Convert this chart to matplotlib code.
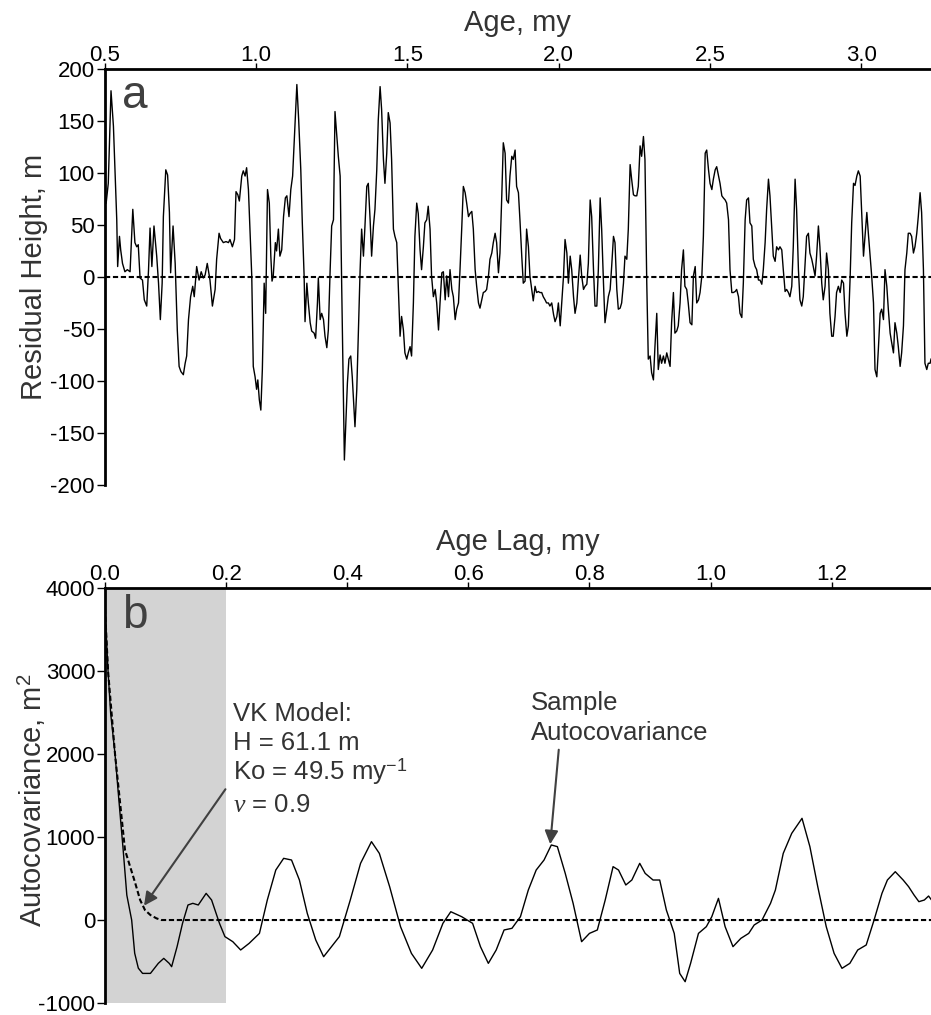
import matplotlib
matplotlib.use('Agg')
from matplotlib import pyplot as plt

plt.rcParams['font.family'] = ['Liberation Sans', 'DejaVu Sans']
plt.rcParams['axes.unicode_minus'] = False
plt.rcParams['mathtext.fontset'] = 'custom'
plt.rcParams['mathtext.rm'] = 'Liberation Sans'
plt.rcParams['mathtext.it'] = 'Liberation Serif:italic'

# panel a: residual height vs age
age = [0.505, 0.512, 0.521, 0.529, 0.534, 0.540, 0.543, 0.549, 0.553, 0.559, 0.567, 0.575, 0.584, 0.593,
       0.600, 0.606, 0.611, 0.617, 0.625, 0.631, 0.639, 0.645, 0.650, 0.656, 0.663, 0.672, 0.678, 0.684,
       0.690, 0.694, 0.702, 0.708, 0.714, 0.718, 0.726, 0.733, 0.740, 0.746, 0.752, 0.760, 0.766, 0.771,
       0.777, 0.784, 0.791, 0.796, 0.804, 0.812, 0.819, 0.826, 0.832, 0.839, 0.848, 0.856, 0.865, 0.870,
       0.878, 0.883, 0.892, 0.901, 0.909, 0.914, 0.922, 0.929, 0.934, 0.940, 0.945, 0.953, 0.958, 0.964,
       0.969, 0.975, 0.980, 0.986, 0.991, 0.997, 1.002, 1.006, 1.011, 1.016, 1.021, 1.027, 1.032, 1.038,
       1.044, 1.049, 1.053, 1.057, 1.064, 1.068, 1.074, 1.079, 1.085, 1.091, 1.097, 1.102, 1.109, 1.115,
       1.121, 1.127, 1.135, 1.141, 1.148, 1.153, 1.159, 1.162, 1.168, 1.173, 1.179,
       1.184, 1.192, 1.197, 1.203, 1.206, 1.212, 1.217, 1.223, 1.228, 1.234, 1.239, 1.245, 1.250, 1.256,
       1.261, 1.267, 1.272, 1.278, 1.283, 1.289, 1.292, 1.296, 1.302, 1.307, 1.313, 1.318, 1.327, 1.333,
       1.338, 1.344, 1.349, 1.355, 1.360, 1.366, 1.371, 1.377, 1.382, 1.388, 1.393, 1.399, 1.404, 1.410,
       1.415, 1.421, 1.426, 1.432, 1.437, 1.443, 1.448, 1.454, 1.459, 1.465, 1.470, 1.476, 1.481, 1.487,
       1.492, 1.498, 1.503, 1.509, 1.514, 1.520, 1.525, 1.531, 1.536, 1.542, 1.547, 1.553, 1.558, 1.564,
       1.569, 1.575, 1.580, 1.586, 1.592, 1.597, 1.603, 1.608, 1.614, 1.619, 1.625, 1.630, 1.636, 1.641,
       1.647, 1.652, 1.658, 1.663, 1.669, 1.674, 1.680, 1.685, 1.691, 1.696, 1.702, 1.707, 1.713, 1.718,
       1.724, 1.729, 1.735, 1.740, 1.746, 1.751, 1.757, 1.762, 1.768, 1.773, 1.779, 1.784, 1.790, 1.795,
       1.801, 1.806, 1.812, 1.817, 1.823, 1.828, 1.834, 1.839, 1.845, 1.850, 1.856,
       1.861, 1.867, 1.872, 1.878, 1.883, 1.889, 1.894, 1.900, 1.905, 1.911, 1.916, 1.922, 1.927, 1.933,
       1.938, 1.944, 1.949, 1.955, 1.960, 1.966, 1.971, 1.977, 1.983, 1.988, 1.994, 1.999, 2.005, 2.010,
       2.016, 2.021, 2.027, 2.032, 2.038, 2.043, 2.049, 2.054, 2.060, 2.065, 2.071, 2.076, 2.082, 2.087,
       2.093, 2.098, 2.104, 2.109, 2.115, 2.120, 2.126, 2.131, 2.137, 2.142, 2.148, 2.153, 2.159, 2.164,
       2.170, 2.175, 2.181, 2.186, 2.192, 2.197, 2.203, 2.208, 2.214, 2.219, 2.225, 2.230, 2.236, 2.241,
       2.247, 2.252, 2.258, 2.263, 2.269, 2.274, 2.280, 2.285, 2.291, 2.296, 2.302, 2.307, 2.313, 2.318,
       2.324, 2.329, 2.335, 2.340, 2.346, 2.351, 2.357, 2.362, 2.368, 2.373, 2.379, 2.384, 2.390, 2.395,
       2.401, 2.406, 2.412, 2.417, 2.423, 2.428, 2.434, 2.440, 2.445, 2.451, 2.456, 2.462, 2.467, 2.473,
       2.478, 2.484, 2.489, 2.495, 2.500, 2.506, 2.511, 2.517, 2.522, 2.528, 2.533,
       2.539, 2.544, 2.550, 2.555, 2.561, 2.566, 2.572, 2.577, 2.583, 2.588, 2.594, 2.599, 2.605, 2.610,
       2.616, 2.621, 2.627, 2.632, 2.638, 2.643, 2.649, 2.654, 2.660, 2.665, 2.671, 2.676, 2.682, 2.687,
       2.693, 2.698, 2.704, 2.709, 2.715, 2.720, 2.726, 2.731, 2.737, 2.742, 2.748, 2.753, 2.759, 2.764,
       2.770, 2.775, 2.781, 2.786, 2.792, 2.797, 2.803, 2.808, 2.814, 2.819, 2.825, 2.830, 2.836, 2.841,
       2.847, 2.852, 2.858, 2.863, 2.869, 2.874, 2.880, 2.885, 2.891, 2.896, 2.902, 2.907, 2.913, 2.918,
       2.924, 2.930, 2.935, 2.941, 2.946, 2.952, 2.957, 2.963, 2.968, 2.974, 2.979, 2.985, 2.990, 2.996,
       3.001, 3.007, 3.012, 3.018, 3.023, 3.029, 3.034, 3.040, 3.045, 3.051, 3.056, 3.062, 3.067, 3.073,
       3.078, 3.084, 3.089, 3.095, 3.100, 3.106, 3.111, 3.117, 3.122, 3.128, 3.133, 3.139, 3.144, 3.150,
       3.155, 3.161, 3.166, 3.172, 3.177, 3.183, 3.188, 3.194, 3.199, 3.205, 3.210, 3.216, 3.221, 3.227,
       3.230]
height = [71, 90, 179, 145, 103, 55, 10, 39, 26, 13, 5, 7, 5, 65,
          33, 29, 31, -1, -3, -22, -28, 7, 47, 10, 49, 20, -6, -41,
          -6, 58, 103, 98, 62, 4, 49, 13, -51, -86, -91, -94, -83, -76,
          -41, -19, -9, -19, 10, -3, 5, -1, 2, 13, -3, -28, -12, 17,
          42, 37, 33, 34, 33, 36, 29, 36, 82, 79, 73, 97, 102, 97,
          105, 84, 46, 1, -86, -96, -108, -99, -118, -128, -89, -6, -35, 84,
          71, 20, -4, 1, 33, 25, 46, 20, 26, 58, 76, 78, 58, 84,
          97, 135, 185, 151, 103, 52, 1, -43, -6, -25, -44,
          -52, -54, -59, -25, -1, -41, -35, -41, -57, -68, -51, 7, 49, 55,
          159, 135, 116, 97, -6, -121, -176, -147, -102, -79, -76, -96, -144, -108,
          -57, 7, 46, 20, 49, 87, 90, 55, 20, 49, 65, 103, 151, 183,
          161, 113, 90, 119, 158, 148, 113, 46, 39, 33, -9, -57, -38, -51,
          -73, -79, -73, -67, -76, -25, 39, 71, 61, 26, 7, 29, 52, 55,
          68, 46, 1, -19, -12, -25, -51, -25, 4, 5, -22, 1, -19, 7,
          -12, -19, -41, -31, -25, 7, 49, 87, 81, 71, 58, 61, 63, 46,
          7, -9, -25, -30, -22, -15, -14, -12, 1, 17, 23, 33, 42, 33,
          4, 23, 78, 129, 119, 74, 71, 97, 116, 113, 122,
          87, 81, 55, 20, -6, -4, 46, 29, 1, -12, -23, -9, -15, -14,
          -15, -15, -19, -22, -25, -25, -28, -25, -36, -43, -38, -25, -47, -25,
          1, 36, 23, -6, 20, 7, -19, -35, -25, -3, 21, 1, -12, -9,
          -7, 13, 74, 58, 7, -28, -28, 7, 76, 46, -6, -44, -31, -19,
          -12, 10, 39, 33, -12, -31, -30, -25, -6, 20, 17, 46, 108, 94,
          79, 78, 78, 87, 126, 116, 135, 113, -6, -79, -76, -92, -99, -67,
          -35, -89, -75, -83, -76, -83, -73, -79, -86, -44, -15, -54, -52, -47,
          -25, 7, 26, -9, -12, -25, -44, -46, 1, 10, -25, -22, -15, 1,
          39, 119, 122, 103, 90, 84, 94, 103, 106, 97, 90,
          78, 76, 74, 71, 55, 7, -15, -15, -14, -12, -19, -35, -39, -6,
          55, 74, 76, 52, 49, 17, 10, 7, -3, -3, -7, 7, 33, 65,
          94, 78, 46, 20, 15, 29, 26, 29, 26, 7, -14, -12, -15, -19,
          -9, 29, 94, 65, 7, -22, -28, -19, 13, 39, 42, 23, 17, 10,
          1, 20, 49, 29, -6, -22, -9, 23, 7, -35, -57, -57, -38, -15,
          -9, -15, -3, -6, -35, -57, -47, 1, 52, 90, 88, 97, 102, 97,
          62, 20, 39, 62, 42, 20, 1, -25, -89, -96, -70, -35, -31, -41,
          7, -9, -31, -54, -63, -73, -44, -54, -67, -86, -73, -47, 7, 23,
          42, 42, 39, 23, 29, 42, 58, 81, 62, 7, -83, -89, -83, -83,
          -79]

# panel b: sample autocovariance vs age lag
lag = [0.0, 0.005, 0.0093, 0.0165, 0.024, 0.030, 0.036, 0.044, 0.049, 0.055, 0.062, 0.075, 0.088, 0.097,
       0.106, 0.110, 0.119, 0.128, 0.137, 0.145, 0.154, 0.167, 0.176, 0.189, 0.198, 0.211, 0.224, 0.238,
       0.255, 0.268, 0.282, 0.295, 0.308, 0.321, 0.334, 0.348, 0.361, 0.374, 0.387, 0.405, 0.422, 0.440,
       0.453, 0.470, 0.488, 0.506, 0.523, 0.541, 0.558, 0.571, 0.589, 0.607, 0.620, 0.633, 0.646, 0.659,
       0.672, 0.686, 0.699, 0.712, 0.725, 0.737, 0.747, 0.760, 0.773, 0.787, 0.800, 0.813, 0.826, 0.839,
       0.848, 0.860, 0.870, 0.883, 0.892, 0.905, 0.916, 0.927, 0.940, 0.949, 0.958, 0.967, 0.980, 0.993,
       1.002, 1.013, 1.024, 1.037, 1.050, 1.063, 1.072, 1.085, 1.099, 1.107, 1.120, 1.134, 1.151, 1.164,
       1.177, 1.191, 1.204, 1.217, 1.230, 1.243, 1.257, 1.270, 1.283, 1.292, 1.305, 1.318, 1.327, 1.336,
       1.344, 1.353, 1.360, 1.369]
acov = [3750, 3000, 2490, 2000, 1350, 843, 300, 0, -400, -580, -643, -643, -522, -462,
        -522, -562, -321, -40, 181, 201, 181, 321, 241, -40, -200, -261, -361, -281,
        -161, 241, 602, 743, 723, 482, 80, -241, -442, -321, -200, 241, 683, 944,
        803, 402, -80, -402, -582, -361, -40, 100, 40, -40, -321, -522, -361, -120,
        -100, 40, 361, 602, 723, 904, 884, 562, 201, -261, -161, -120, 241, 643,
        602, 422, 482, 683, 562, 482, 482, 120, -161, -643, -743, -522, -161, -80,
        40, 261, -80, -321, -221, -161, -60, 0, 201, 361, 803, 1044, 1225, 884,
        402, -80, -402, -582, -522, -361, -301, 0, 321, 482, 582, 482, 402, 301,
        221, 241, 289, 201]

# VK model curve
lag_vk = [0.0, 0.005, 0.0165, 0.033, 0.050, 0.058, 0.066, 0.075, 0.085, 0.093, 1.37]
acov_vk = [3750, 3000, 2000, 843, 442, 241, 120, 60, 20, 0, 0]

age_ticks = [0.5, 1.0, 1.5, 2.0, 2.5, 3.0]
lag_ticks = [0.0, 0.2, 0.4, 0.6, 0.8, 1.0, 1.2]

txt = '#333333'
gray = '#404040'

fig = plt.figure(figsize=(9.31, 10.15), dpi=100)
ax1 = fig.add_axes([0.1124, 0.5222, 0.8876, 0.4099])
ax2 = fig.add_axes([0.1128, 0.0118, 0.8872, 0.4089])

for ax in (ax1, ax2):
    ax.spines['right'].set_visible(False)
    ax.spines['bottom'].set_visible(False)
    ax.spines['top'].set_linewidth(2)
    ax.spines['left'].set_linewidth(2)
    ax.xaxis.tick_top()
    ax.xaxis.set_label_position('top')
    ax.tick_params(axis='x', direction='out', length=4, width=1, labelsize=16, pad=-2)
    ax.tick_params(axis='y', direction='out', length=6, width=1, labelsize=16, pad=1)

# panel a
ax1.plot(age, height, color='black', lw=1.0)
ax1.axhline(0, color='black', lw=1.5, ls=(0, (2.5, 1.3)))
ax1.set_xlim(0.5, 3.23)
ax1.set_ylim(-200, 200)
ax1.set_xticks(age_ticks)
ax1.set_xticklabels(['%.1f' % t for t in age_ticks])
ax1.set_yticks(range(-200, 201, 50))
ax1.set_xlabel('Age, my', fontsize=21, color=txt, labelpad=10)
ax1.set_ylabel('Residual Height, m', fontsize=21, color=txt)
ax1.yaxis.set_label_coords(-0.069, 0.5)
ax1.text(0.021, 0.906, 'a', transform=ax1.transAxes, fontsize=33, color=gray, va='baseline')

# panel b
ax2.axvspan(0, 0.2, color='#d3d3d3', lw=0, zorder=0)
ax2.plot(lag, acov, color='black', lw=1.0)
ax2.plot(lag_vk, acov_vk, color='black', lw=1.5, ls=(0, (2.5, 1.3)))
ax2.set_xlim(0, 1.364)
ax2.set_ylim(-1000, 4000)
ax2.set_xticks(lag_ticks)
ax2.set_xticklabels(['%.1f' % t for t in lag_ticks])
ax2.set_yticks(range(-1000, 4001, 1000))
ax2.set_xlabel('Age Lag, my', fontsize=21, color=txt, labelpad=10)
ax2.set_ylabel('Autocovariance, m$^\\mathrm{2}$', fontsize=21, color=txt)
ax2.yaxis.set_label_coords(-0.069, 0.49)
ax2.text(0.021, 0.904, 'b', transform=ax2.transAxes, fontsize=33, color=gray, va='baseline')

vk_lines = ['VK Model:', 'H = 61.1 m', 'Ko = 49.5 my$^\\mathrm{-1}$', '$\\nu$ = 0.9']
vk_base = [2398, 2049, 1687, 1301]
for s, yb in zip(vk_lines, vk_base):
    ax2.text(0.2114, yb, s, fontsize=18.5, color=txt, va='baseline')
ax2.annotate('', xy=(0.0618, 145), xytext=(0.2015, 1603),
             arrowprops=dict(arrowstyle='-|>', color=gray, lw=1.5, mutation_scale=20))

ax2.text(0.7034, 2530, 'Sample', fontsize=18.5, color=txt, va='baseline')
ax2.text(0.7034, 2169, 'Autocovariance', fontsize=18.5, color=txt, va='baseline')
ax2.annotate('', xy=(0.7348, 880), xytext=(0.7497, 2085),
             arrowprops=dict(arrowstyle='-|>', color=gray, lw=1.5, mutation_scale=20))

plt.savefig('out.png', dpi=100)
